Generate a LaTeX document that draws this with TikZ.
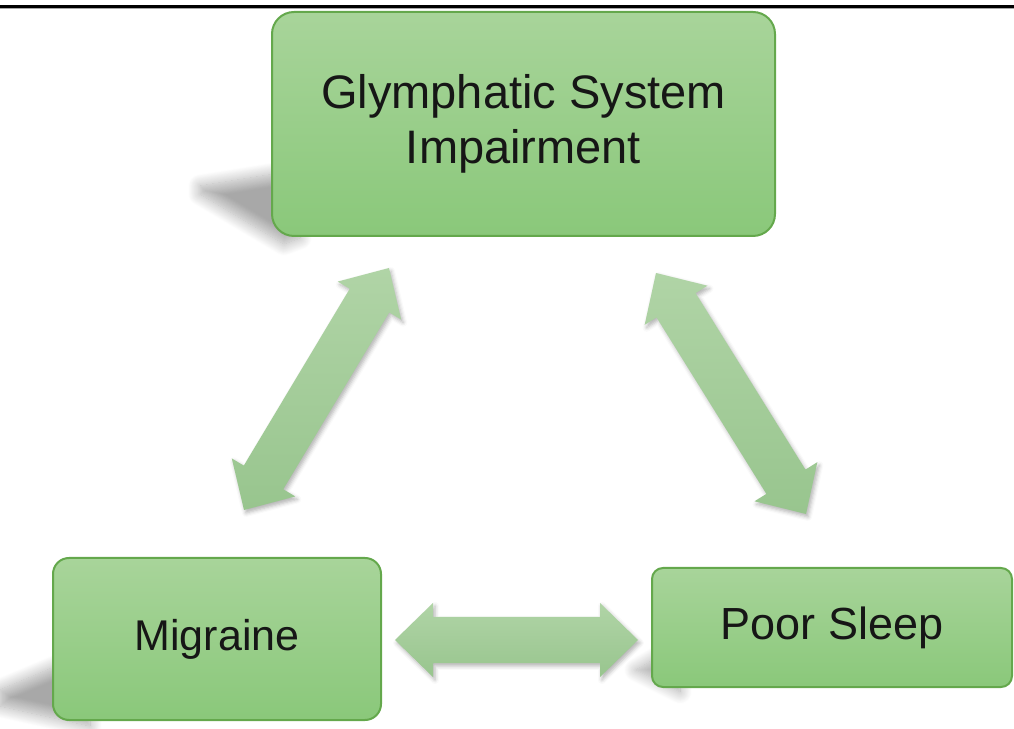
\documentclass[tikz,border=0pt]{standalone}
\usepackage{fontspec}
\setmainfont{Liberation Sans}
\usetikzlibrary{calc,shadows.blur}
\definecolor{boxtop}{RGB}{168,212,154}
\definecolor{boxbot}{RGB}{138,200,122}
\definecolor{boxline}{RGB}{100,168,76}
\definecolor{arrtop}{RGB}{176,212,166}
\definecolor{arrbot}{RGB}{152,197,142}
\definecolor{txt}{RGB}{22,22,22}
\tikzset{
  greenbox/.style={shape=rectangle, top color=boxtop, bottom color=boxbot,
    draw=boxline, line width=2pt, text=txt, align=center, inner sep=0pt},
  boxshadow/.style={blur shadow={shadow xshift=0pt, shadow yshift=0pt,
    shadow blur radius=12pt, shadow blur steps=16, shadow opacity=34}},
  arrowbody/.style={top color=arrtop, bottom color=arrbot,
    blur shadow={shadow xshift=2pt, shadow yshift=-3pt, shadow blur radius=4pt, shadow opacity=30}},
}
\newcommand{\blockarrow}[2]{%
  \shade[arrowbody] (#1)
    -- ($(#1)!38pt!(#2)!37pt!90:(#2)$)
    -- ($(#1)!38pt!(#2)!23pt!90:(#2)$)
    -- ($(#2)!38pt!(#1)!23pt!-90:(#1)$)
    -- ($(#2)!38pt!(#1)!37pt!-90:(#1)$)
    -- (#2)
    -- ($(#2)!38pt!(#1)!37pt!90:(#1)$)
    -- ($(#2)!38pt!(#1)!23pt!90:(#1)$)
    -- ($(#1)!38pt!(#2)!23pt!-90:(#2)$)
    -- ($(#1)!38pt!(#2)!37pt!-90:(#2)$)
    -- cycle;}
\begin{document}
\begin{tikzpicture}[x=1pt,y=1pt]
\useasboundingbox (0,0) rectangle (1014,728);
% top frame line
\draw[line width=2.5pt] (0,721.5) -- (1014,721.5);
\draw[black!35, line width=1pt] (0,719.3) -- (1014,719.3);
% perspective shadows
\path[boxshadow] (300,558) -- (200,542) -- (200,534) -- (284,484) -- (300,490) -- cycle;
\path[boxshadow] (90,76) -- (0,38) -- (0,22) -- (90,2) -- cycle;
\path[boxshadow] (680,84) -- (636,58) -- (680,36) -- cycle;
% boxes
\node[greenbox, rounded corners=22pt, minimum width=503pt, minimum height=224pt,
  font=\fontsize{47}{55}\selectfont] (gsi) at (523.5,604) {Glymphatic System\\Impairment};
\node[greenbox, rounded corners=16pt, minimum width=328pt, minimum height=162pt,
  font=\fontsize{43}{50}\selectfont] (mig) at (217,89) {Migraine};
\node[greenbox, rounded corners=11pt, minimum width=360pt, minimum height=119pt,
  font=\fontsize{45}{52}\selectfont] (ps) at (832,100.5) {Poor Sleep};
% arrow end points
\coordinate (a1) at (244,218);
\coordinate (b1) at (389,460);
\coordinate (a2) at (656,455);
\coordinate (b2) at (806,214);
\coordinate (a3) at (395,88);
\coordinate (b3) at (638,88);
\blockarrow{a1}{b1}
\blockarrow{a2}{b2}
\blockarrow{a3}{b3}
\end{tikzpicture}
\end{document}
